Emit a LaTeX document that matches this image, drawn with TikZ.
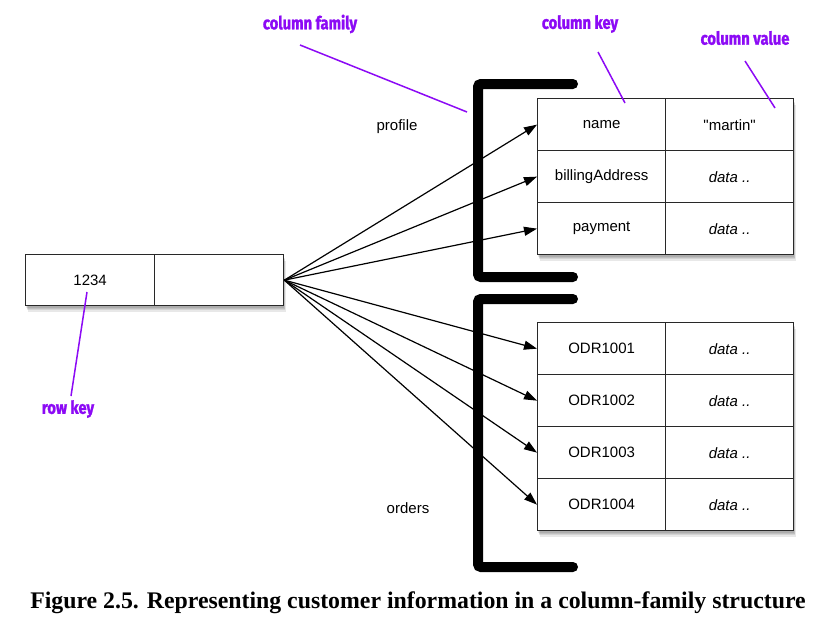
\documentclass[tikz,border=0pt]{standalone}
\usepackage{fontspec}
\setmainfont{Liberation Sans}
\newfontfamily\capfont{Liberation Serif}
\newfontfamily\handfont[FakeStretch=0.82,BoldFeatures={FakeBold=1.3,FakeStretch=0.82}]{Fira Sans}
\usetikzlibrary{arrows.meta,calc}
\definecolor{annot}{RGB}{140,10,245}
\definecolor{linegray}{RGB}{40,40,40}
\begin{document}
\begin{tikzpicture}[x=1pt,y=-1pt,
  cell/.style={draw=linegray,line width=1.3pt,fill=white,minimum width=128pt,minimum height=52pt,inner sep=0pt,font=\fontsize{15}{18}\selectfont,anchor=north west},
  keycell/.style={cell,minimum width=129pt,minimum height=51pt},
  valtext/.style={cell,font=\fontsize{15}{18}\selectfont\itshape},
  arr/.style={line width=1.2pt,-{Triangle[length=13pt,width=9pt]},shorten >=0pt},
  bracketline/.style={line width=10pt,line cap=round,rounded corners=3pt},
  famlabel/.style={font=\fontsize{15}{18}\selectfont},
  hand/.style={text=annot,font=\handfont\bfseries\fontsize{18}{21}\selectfont},
  pline/.style={draw=annot,line width=1.5pt},
  shadowbox/.style={fill=black,opacity=0.09}
]
\useasboundingbox (0,0) rectangle (830,629);
\fill[white] (0,0) rectangle (830,629);

% brackets
\draw[bracketline] (573,84) -- (478,84) -- (478,277) -- (573,277);
\draw[bracketline] (573,299) -- (478,299) -- (478,567) -- (573,567);

% shadows
\foreach \i in {1,...,5}{
  \fill[shadowbox] (537+0.6*\i,98+1.3*\i) rectangle (793+0.6*\i,254+1.3*\i);
  \fill[shadowbox] (537+0.6*\i,322+1.3*\i) rectangle (793+0.6*\i,530+1.3*\i);
  \fill[shadowbox] (25+0.6*\i,254+1.3*\i) rectangle (283+0.6*\i,305+1.3*\i);
}

% row key box
\node[keycell] (rka) at (25,254) {1234};
\node[keycell] (rkb) at (154,254) {};

% profile table
\node[cell] (p1k) at (537,98) {name};
\node[cell] (p1v) at (665,98) {\textquotedbl martin\textquotedbl};
\node[cell] (p2k) at (537,150) {billingAddress};
\node[valtext] (p2v) at (665,150) {data ..};
\node[cell] (p3k) at (537,202) {payment};
\node[valtext] (p3v) at (665,202) {data ..};

% orders table
\node[cell] (o1k) at (537,322) {ODR1001};
\node[valtext] (o1v) at (665,322) {data ..};
\node[cell] (o2k) at (537,374) {ODR1002};
\node[valtext] (o2v) at (665,374) {data ..};
\node[cell] (o3k) at (537,426) {ODR1003};
\node[valtext] (o3v) at (665,426) {data ..};
\node[cell] (o4k) at (537,478) {ODR1004};
\node[valtext] (o4v) at (665,478) {data ..};

% family labels
\node[famlabel] (prof) at (397,127) {profile};
\node[famlabel] (ord) at (408,508) {orders};

% arrows
\foreach \t in {p1k,p2k,p3k,o1k,o2k,o3k,o4k}{
  \draw[arr] (rkb.east) -- (\t.west);
}

% annotations
\node[hand] (cf) at (310,24) {column family};
\node[hand] (ck) at (580,24) {column key};
\node[hand] (cv) at (745,38) {column value};
\node[hand] (rk) at (68,409) {row key};
\coordinate (cfa) at (300,45);
\coordinate (cfb) at (467,112);
\coordinate (cka) at (598,52);
\coordinate (ckb) at (625,103);
\coordinate (cva) at (745,61);
\coordinate (cvb) at (775,108);
\coordinate (rka1) at (87,292);
\coordinate (rkb1) at (71,396);
\draw[pline] (cfa) -- (cfb);
\draw[pline] (cka) -- (ckb);
\draw[pline] (cva) -- (cvb);
\draw[pline] (rka1) -- (rkb1);

% caption
\node[font=\capfont\bfseries\fontsize{23.8}{28}\selectfont] (cap) at (418,603) {Figure 2.5. Representing customer information in a column-family structure};
\end{tikzpicture}
\end{document}
